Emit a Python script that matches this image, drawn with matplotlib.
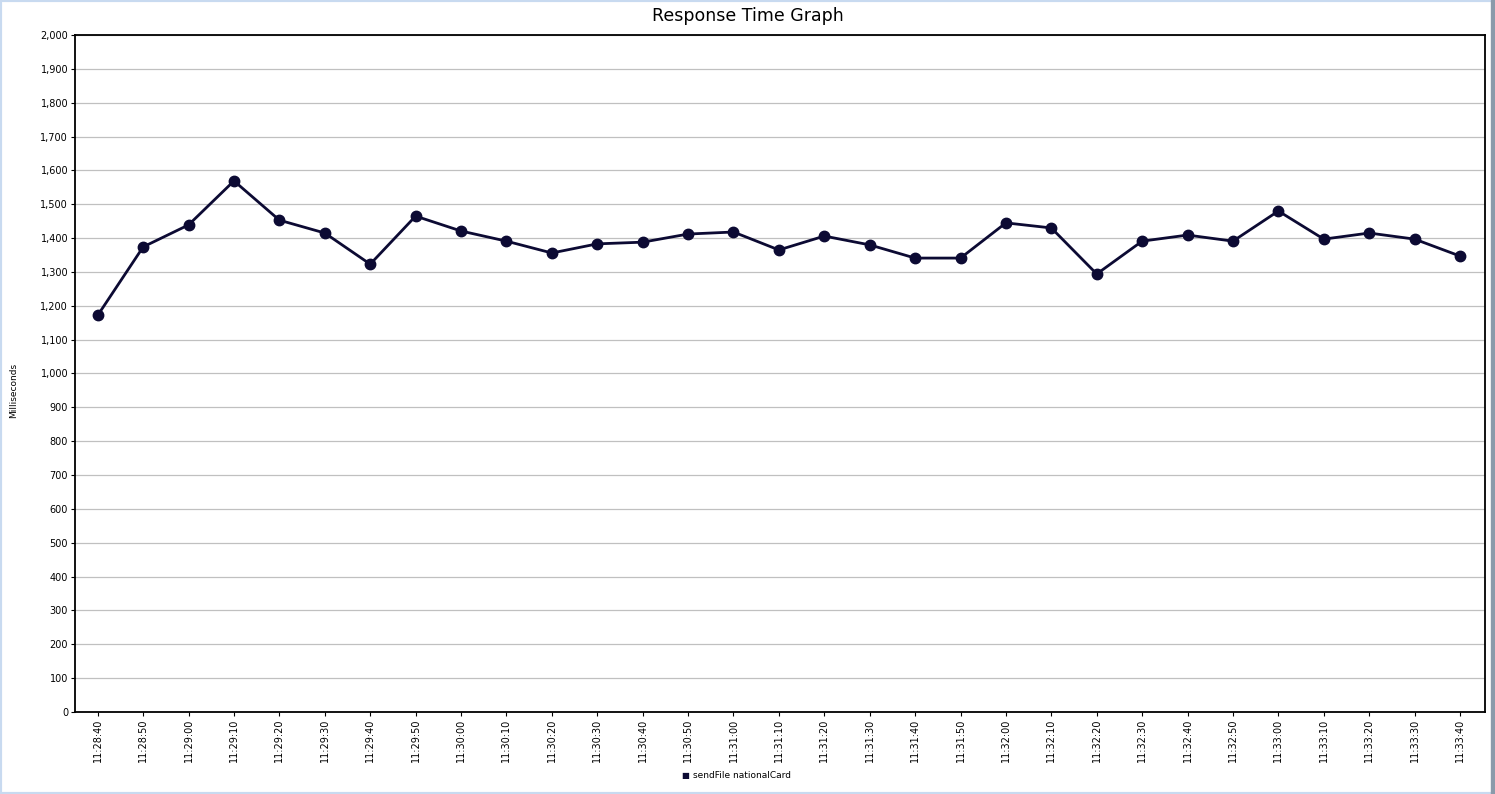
import matplotlib
matplotlib.use("Agg")
import matplotlib.pyplot as plt
from matplotlib.patches import Rectangle

### 資料
times = ["11:28:40", "11:28:50", "11:29:00", "11:29:10", "11:29:20", "11:29:30",
         "11:29:40", "11:29:50", "11:30:00", "11:30:10", "11:30:20", "11:30:30",
         "11:30:40", "11:30:50", "11:31:00", "11:31:10", "11:31:20", "11:31:30",
         "11:31:40", "11:31:50", "11:32:00", "11:32:10", "11:32:20", "11:32:30",
         "11:32:40", "11:32:50", "11:33:00", "11:33:10", "11:33:20", "11:33:30",
         "11:33:40"]
resp_ms = [1172, 1374, 1439, 1569, 1453, 1415, 1323, 1465, 1421, 1391, 1356, 1383,
           1388, 1412, 1418, 1365, 1406, 1380, 1341, 1341, 1445, 1430, 1294, 1391,
           1409, 1391, 1480, 1397, 1415, 1397, 1347]
series_name = "sendFile nationalCard"

### 畫圖
fig = plt.figure(figsize=(14.95, 7.94), dpi=100)
ax = fig.add_axes([0.0502, 0.1033, 0.9431, 0.8526])

x = list(range(len(times)))
ax.plot(x, resp_ms, color="#0c0a33", linewidth=2.0, marker="o", markersize=7.5,
        label=series_name)

ax.set_xlim(-0.5, len(times) - 0.45)
ax.set_ylim(0, 2000)
ax.set_yticks(range(0, 2001, 100))
ax.set_yticklabels([f"{v:,}" for v in range(0, 2001, 100)], fontsize=7)
ax.set_xticks(x)
ax.set_xticklabels(times, rotation=90, fontsize=7)
ax.tick_params(length=3, width=0.8, pad=2)
ax.yaxis.grid(True, color="#c0c0c0", linewidth=0.9)
ax.set_axisbelow(True)
for s in ax.spines.values():
    s.set_linewidth(1.3)
    s.set_color("black")

# y軸標籤 (位置稍微偏下)
fig.text(14 / 1495, 1 - 390 / 794, "Milliseconds", rotation=90, ha="center",
         va="center", fontsize=6.5)
fig.text(0.5, 0.98, "Response Time Graph", ha="center", va="center", fontsize=12.5)

# legend
fig.text(0.4585, 0.023, "\u25a0", ha="center", va="center", fontsize=6, color="#0c0a33")
fig.text(0.4635, 0.023, series_name, ha="left", va="center", fontsize=6.5)

# 外框
fig.patches.append(Rectangle((0, 0), 1, 1, transform=fig.transFigure, fill=False,
                             edgecolor="#c8daf0", linewidth=3))
fig.patches.append(Rectangle((0.9975, 0), 0.0025, 1, transform=fig.transFigure,
                             color="#8a9aaa"))

fig.savefig("out.png", dpi=100)
